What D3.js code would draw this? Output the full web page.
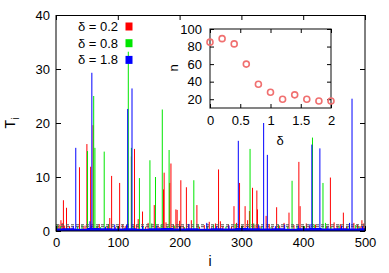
<!DOCTYPE html>
<html>
<head>
<meta charset="utf-8">
<script src="https://cdn.jsdelivr.net/npm/d3@7"></script>
<style>
  body { margin: 0; background: #fff; }
  svg text { font-family: "Liberation Sans", Arial, sans-serif; fill: #000; }
</style>
</head>
<body>
<div id="chart"></div>
<script>
// legend entries
var deltas = ["0.2", "0.8", "1.8"]
var colors = ["#ff0000", "#00e600", "#0000ff"]

// T_i spikes, [i, value]
var redSpikes = [[8,2],[12,5.7],[17,4.3],[38,11.8],[50,16.1],[56,11.9],[60,19.6],[90,10.2],[103,8.9],
  [122,13.8],[127,15.2],[133,2.2],[140,3.6],[159,4.8],[174,7.7],[175,10.8],[184,8.9],[186,12.5],
  [194,4],[200,1.9],[202,9.4],[211,8.1],[219,2],[228,4.8],[248,1.7],[263,11.4],[288,4.6],[297,8.9],
  [306,4.6],[313,3.7],[318,8],[325,7.5],[326,4],[340,2.8],[357,4.4],[377,3.4],[393,12.8],[395,4.6],
  [444,9.9],[465,3.4],[495,2],
  [3,0.8],[5,1.2],[10,1.5],[14,1.0],[22,0.9],[26,0.6],[44,0.7],[47,1.0],[66,0.8],[70,1.3],[83,0.9],
  [87,2.4],[96,0.7],[108,1.2],[112,0.9],[130,1.1],[145,0.8],[149,1.5],[165,1.0],[168,0.7],[178,1.6],
  [190,1.2],[196,3.9],[206,1.0],[215,1.3],[232,0.8],[240,1.1],[252,0.7],[258,1.4],[266,1.8],[270,0.9],
  [279,1.2],[284,0.8],[292,1.5],[302,1.0],[310,2.0],[322,1.2],[330,0.9],[345,1.3],[350,0.7],[362,1.0],
  [369,1.5],[385,1.1],[400,0.8],[405,1.4],[410,1.0],[420,1.2],[438,0.9],[450,1.6],[455,1.0],[460,1.3],
  [470,0.8],[475,1.1],[482,1.5],[488,1.2],[492,0.9],[498,1.4]]

var greenSpikes = [[51,14.8],[61,25],[63,15.4],[78,14.7],[117,33.2],[122,15.4],[135,9.8],[152,13.1],
  [161,10],[172,22.5],[183,15],[223,9.4],[314,15.2],[382,9.3],[415,17.3],[432,8.9],
  [2,1.2],[7,0.9],[19,0.6],[35,0.8],[42,1.1],[67,1.0],[72,0.7],[85,1.3],[100,0.8],[110,0.6],[125,1.0],
  [141,0.9],[155,1.4],[170,1.2],[180,0.8],[192,1.0],[208,0.7],[230,1.2],[245,0.9],[255,1.1],[275,0.8],
  [290,1.3],[301,1.0],[320,1.4],[333,0.9],[348,0.7],[360,1.1],[375,0.8],[390,1.0],[402,0.9],[418,1.2],
  [436,1.5],[445,0.8],[458,1.0],[472,0.7],[485,1.1],[490,0.9]]

var blueSpikes = [[32,15.4],[58,29.3],[116,22.6],[123,26.4],[295,16.7],[336,20],[342,14.1],[414,16],
  [427,15.3],[479,24.5],
  [28,0.9],[55,1.8],[57,1.0],[80,0.8],[95,1.2],[114,1.1],[140,0.9],[163,1.0],[200,0.8],[215,1.3],
  [244,1.5],[260,0.9],[280,1.0],[310,0.8],[328,1.1],[355,0.9],[370,1.2],[392,1.0],[411,1.3],[440,0.8],
  [462,1.0],[475,1.5],[496,0.9]]

// low blue level, every 20 steps of i
var blueFloorI = [0,20,40,60,80,100,120,140,160,180,200,220,240,260,280,300,320,340,360,380,400,420,440,460,480,500]
var blueFloorV = [0.45,0.5,0.4,0.55,0.5,0.45,0.5,0.4,0.5,0.55,0.45,0.5,0.4,0.5,0.45,0.55,0.5,0.45,0.5,0.4,0.5,0.55,0.45,0.5,0.45,0.5]

var levels = [1.15, 0.8]

var xTicks = [0, 100, 200, 300, 400, 500]
var yTicks = [0, 10, 20, 30, 40]

// inset: n vs delta
var insetDelta = [0, 0.2, 0.4, 0.6, 0.8, 1.0, 1.2, 1.4, 1.6, 1.8, 2.0]
var insetN = [85, 89, 83, 60, 37, 28, 20, 25, 20, 18, 18]
var insetXTicks = [0, 0.5, 1, 1.5, 2]
var insetYTicks = [20, 40, 60, 80, 100]

var W = 389, H = 273
var svg = d3.select("#chart").append("svg").attr("width", W).attr("height", H)

var x = d3.scaleLinear().domain([0, 500]).range([56, 365])
var y = d3.scaleLinear().domain([0, 40]).range([231, 15])

function impulses(data, color) {
  svg.append("g").selectAll("line")
    .data(data)
    .enter().append("line")
    .attr("x1", function (d) { return x(d[0]) })
    .attr("x2", function (d) { return x(d[0]) })
    .attr("y1", y(0))
    .attr("y2", function (d) { return y(d[1]) })
    .attr("stroke", color)
    .attr("stroke-width", 1)
}

impulses(redSpikes, colors[0])
impulses(greenSpikes, colors[1])

// dashed level lines
svg.append("g").selectAll("line")
  .data(levels)
  .enter().append("line")
  .attr("x1", x(0)).attr("x2", x(500))
  .attr("y1", function (d) { return y(d) })
  .attr("y2", function (d) { return y(d) })
  .attr("stroke", "#555")
  .attr("stroke-width", 1)
  .attr("stroke-dasharray", "3,2")

impulses(blueSpikes, colors[2])

var floor = d3.area()
  .x(function (d, i) { return x(blueFloorI[i]) })
  .y0(y(0))
  .y1(function (d) { return y(d) })
  .curve(d3.curveStep)
svg.append("path").datum(blueFloorV).attr("d", floor).attr("fill", colors[2])

// axes (ticks inward, mirrored)
function styleAxis(g) {
  g.select(".domain").remove()
  g.selectAll("text").style("font-size", "13px").style("font-family", "Liberation Sans, Arial, sans-serif")
  g.selectAll("line").attr("stroke", "#000")
}
svg.append("g").attr("transform", "translate(0," + y(0) + ")")
  .call(d3.axisBottom(x).tickValues(xTicks).tickSize(-5).tickPadding(7)).call(styleAxis)
svg.append("g").attr("transform", "translate(0," + y(40) + ")")
  .call(d3.axisTop(x).tickValues(xTicks).tickSize(-5).tickFormat("")).call(styleAxis)
svg.append("g").attr("transform", "translate(" + x(0) + ",0)")
  .call(d3.axisLeft(y).tickValues(yTicks).tickSize(-5).tickPadding(6)).call(styleAxis)
svg.append("g").attr("transform", "translate(" + x(500) + ",0)")
  .call(d3.axisRight(y).tickValues(yTicks).tickSize(-5).tickFormat("")).call(styleAxis)

svg.append("rect")
  .attr("x", x(0)).attr("y", y(40) + 0.5)
  .attr("width", x(500) - x(0)).attr("height", y(0) - y(40) - 0.5)
  .attr("fill", "none").attr("stroke", "#000").attr("stroke-width", 1)

svg.append("text").attr("x", x(250) - 0.5).attr("y", 266)
  .attr("text-anchor", "middle").style("font-size", "14px").text("i")
svg.append("text")
  .attr("transform", "translate(15," + 123 + ") rotate(-90)")
  .attr("text-anchor", "middle").style("font-size", "14px")
  .text("T").append("tspan").attr("dy", 4).style("font-size", "10px").text("i")

// legend
var leg = svg.append("g").selectAll("g")
  .data(deltas)
  .enter().append("g")
  .attr("transform", function (d, i) { return "translate(0," + (26.5 + i * 16.7) + ")" })
leg.append("text").attr("x", 118).attr("y", 4.5).attr("text-anchor", "end")
  .style("font-size", "13px")
  .text(function (d) { return "\u03b4 = " + d })
leg.append("rect").attr("x", 125.5).attr("y", -4).attr("width", 7).attr("height", 8)
  .attr("fill", function (d, i) { return colors[i] })

// inset
var ix = d3.scaleLinear().domain([0, 2]).range([210, 331])
var iy = d3.scaleLinear().domain([10, 100]).range([108, 29])

svg.append("rect").attr("x", ix(0)).attr("y", iy(100))
  .attr("width", ix(2) - ix(0)).attr("height", iy(10) - iy(100))
  .attr("fill", "#fff").attr("stroke", "#333").attr("stroke-width", 1.2)

svg.append("g").attr("transform", "translate(0," + iy(10) + ")")
  .call(d3.axisBottom(ix).tickValues(insetXTicks).tickSize(-4).tickPadding(8)
    .tickFormat(function (d) { return d }))
  .call(styleAxis)
svg.append("g").attr("transform", "translate(0," + iy(100) + ")")
  .call(d3.axisTop(ix).tickValues(insetXTicks).tickSize(-4).tickFormat("")).call(styleAxis)
svg.append("g").attr("transform", "translate(" + ix(0) + ",0)")
  .call(d3.axisLeft(iy).tickValues(insetYTicks).tickSize(-4).tickPadding(8)).call(styleAxis)
svg.append("g").attr("transform", "translate(" + ix(2) + ",0)")
  .call(d3.axisRight(iy).tickValues(insetYTicks).tickSize(-4).tickFormat("")).call(styleAxis)

svg.append("g").selectAll("circle")
  .data(insetN)
  .enter().append("circle")
  .attr("cx", function (d, i) { return ix(insetDelta[i]) })
  .attr("cy", function (d) { return iy(d) })
  .attr("r", 3)
  .attr("fill", "none")
  .attr("stroke", "#f07070")
  .attr("stroke-width", 1.6)

svg.append("text")
  .attr("transform", "translate(178,68) rotate(-90)")
  .attr("text-anchor", "middle").style("font-size", "13px").text("n")
svg.append("text").attr("x", 280).attr("y", 145)
  .attr("text-anchor", "middle").style("font-size", "13px").text("\u03b4")
</script>
</body>
</html>
